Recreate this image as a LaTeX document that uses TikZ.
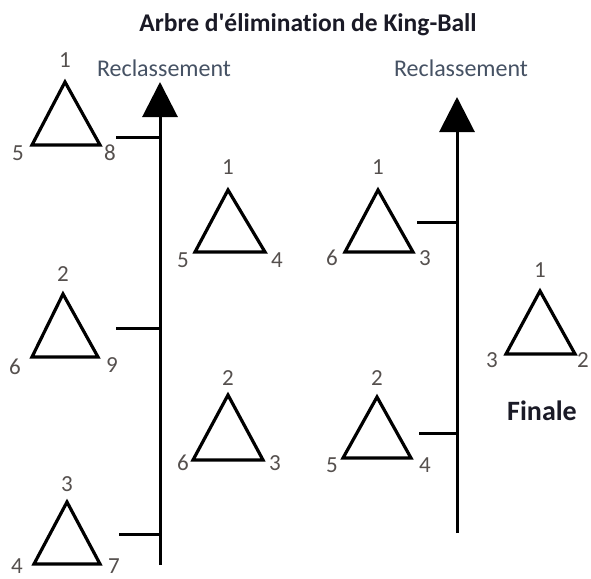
\documentclass[tikz,border=0pt]{standalone}
\usepackage{fontspec}
\setmainfont{Carlito}[Ligatures={TeXOff,NoCommon}]
\usetikzlibrary{arrows.meta}
\definecolor{numcol}{HTML}{55504E}
\definecolor{reccol}{HTML}{465264}
\definecolor{titcol}{HTML}{1A1A26}
\tikzset{
  axis/.style={line width=3pt, -{Triangle[width=35pt,length=35pt]}},
  tick/.style={line width=3pt},
  tri/.style={line width=3.2pt, draw=black},
  num/.style={text=numcol, font=\fontsize{23}{26}\selectfont, inner sep=0pt, anchor=center},
  rec/.style={text=reccol, font=\fontsize{24}{28}\selectfont, inner sep=0pt, anchor=center},
  ttl/.style={text=titcol, font=\fontsize{25.5}{30}\selectfont\bfseries, inner sep=0pt, anchor=center},
  fin/.style={text=titcol, font=\fontsize{28}{32}\selectfont\bfseries, inner sep=0pt, anchor=center},
}
\newcommand\kbtri[6]{% name, apex x, apex y, left x, right x, base y
  \coordinate (#1a) at (#2,#3);
  \coordinate (#1l) at (#4,#6);
  \coordinate (#1r) at (#5,#6);
  \draw[tri] (#1a) -- (#1l) -- (#1r) -- cycle;
}
\begin{document}
\begin{tikzpicture}[x=1pt,y=-1pt]
\useasboundingbox (0,0) rectangle (591,578);
\fill[white] (0,0) rectangle (591,578);
\node[ttl] (title) at (308,25) {Arbre d'élimination de King-Ball};
\node[rec] (rec1) at (164,68) {Reclassement};
\node[rec] (rec2) at (461,68) {Reclassement};
\node[fin] (fin) at (542,411) {Finale};
% axes
\coordinate (a1b) at (160,565);
\coordinate (a1t) at (160,82);
\coordinate (a2b) at (457,533);
\coordinate (a2t) at (457,97);
\draw[axis] (a1b) -- (a1t);
\draw[axis] (a2b) -- (a2t);
% ticks
\coordinate (k1) at (116,137); \coordinate (k1e) at (160,137);
\coordinate (k2) at (116,328); \coordinate (k2e) at (160,328);
\coordinate (k3) at (119,534); \coordinate (k3e) at (160,534);
\coordinate (k4) at (417,222); \coordinate (k4e) at (457,222);
\coordinate (k5) at (419,433); \coordinate (k5e) at (457,433);
\draw[tick] (k1) -- (k1e);
\draw[tick] (k2) -- (k2e);
\draw[tick] (k3) -- (k3e);
\draw[tick] (k4) -- (k4e);
\draw[tick] (k5) -- (k5e);
% triangles
\kbtri{t1}{65}{82}{32}{100}{145}
\kbtri{t2}{63}{294}{32}{98}{357}
\kbtri{t3}{67}{502}{34}{100}{564}
\kbtri{t4}{228}{190}{195}{265}{252}
\kbtri{t5}{228}{395}{193}{263}{460}
\kbtri{t6}{378}{190}{345}{413}{252}
\kbtri{t7}{377}{397}{343}{411}{458}
\kbtri{t8}{540}{291}{506}{575}{354}
% labels
\node[num] (n1a) at (65,60) {1};  \node[num] (n1l) at (18,153) {5};  \node[num] (n1r) at (110,153) {8};
\node[num] (n2a) at (63,274) {2}; \node[num] (n2l) at (15,367) {6};  \node[num] (n2r) at (112,365) {9};
\node[num] (n3a) at (67,484) {3}; \node[num] (n3l) at (17,566) {4};  \node[num] (n3r) at (114,566) {7};
\node[num] (n4a) at (228,167) {1}; \node[num] (n4l) at (183,260) {5}; \node[num] (n4r) at (277,260) {4};
\node[num] (n5a) at (228,378) {2}; \node[num] (n5l) at (183,463) {6}; \node[num] (n5r) at (275,463) {3};
\node[num] (n6a) at (378,167) {1}; \node[num] (n6l) at (332,258) {6}; \node[num] (n6r) at (425,258) {3};
\node[num] (n7a) at (377,378) {2}; \node[num] (n7l) at (332,465) {5}; \node[num] (n7r) at (425,465) {4};
\node[num] (n8a) at (540,270) {1}; \node[num] (n8l) at (492,360) {3}; \node[num] (n8r) at (583,360) {2};
\end{tikzpicture}
\end{document}
